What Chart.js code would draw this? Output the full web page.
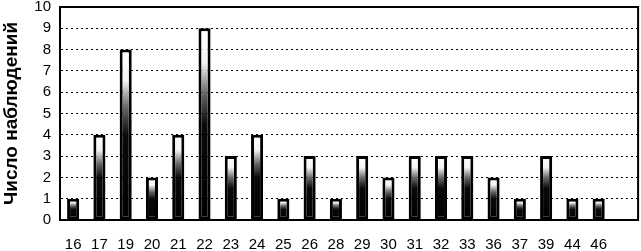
<!DOCTYPE html>
<html>
<head>
<meta charset="utf-8">
<script src="https://cdn.jsdelivr.net/npm/chart.js@4"></script>
<style>
  body { margin: 0; background: #fff; }
  #wrap { width: 641px; height: 251px; }
</style>
</head>
<body>
<div id="wrap"><canvas id="chart"></canvas></div>
<script>
// categories (last slot is empty, as in the original)
const categories = ['16', '17', '19', '20', '21', '22', '23', '24', '25', '26', '28',
    '29', '30', '31', '32', '33', '36', '37', '39', '44', '46', ''];
const counts = [1, 4, 8, 2, 4, 9, 3, 4, 1, 3, 1, 3, 2, 3, 3, 3, 2, 1, 3, 1, 1, null];
const yTicks = [0, 1, 2, 3, 4, 5, 6, 7, 8, 9, 10];

// bar fill: dark at the bottom fading to white at the top of each bar
function barFill(ctx) {
    const chart = ctx.chart;
    if (!chart.chartArea || ctx.raw == null) return '#000';
    const y = chart.scales.y;
    const base = y.getPixelForValue(0);
    const top = y.getPixelForValue(ctx.raw);
    const g = chart.ctx.createLinearGradient(0, base, 0, top);
    g.addColorStop(0, '#000');
    g.addColorStop(0.5, '#0a0a0a');
    g.addColorStop(0.66, '#666');
    g.addColorStop(0.82, '#f4f4f4');
    g.addColorStop(1, '#fff');
    return g;
}

// frame around the plot area
const frame = {
    id: 'frame',
    afterDatasetsDraw(chart) {
        const { ctx, chartArea: a } = chart;
        ctx.save();
        ctx.strokeStyle = '#000';
        ctx.lineWidth = 2;
        ctx.strokeRect(a.left, a.top, a.right - a.left, a.bottom - a.top);
        ctx.restore();
    }
};

new Chart(document.getElementById('chart'), {
    type: 'bar',
    data: {
        labels: categories,
        datasets: [{
            data: counts,
            backgroundColor: barFill,
            borderColor: '#000',
            borderWidth: 3,
            borderSkipped: false,
            barPercentage: 0.46,
            categoryPercentage: 1
        }]
    },
    options: {
        responsive: true,
        maintainAspectRatio: false,
        animation: false,
        layout: { padding: { top: 0, right: 2, left: 0, bottom: 0 } },
        plugins: {
            legend: { display: false },
            tooltip: { enabled: false }
        },
        scales: {
            x: {
                grid: { display: false, drawTicks: false },
                border: { display: true, color: '#000', width: 2 },
                afterFit: axis => { axis.height = 31; },
                ticks: {
                    color: '#000',
                    padding: 16,
                    maxRotation: 0,
                    autoSkip: false,
                    font: { family: 'Liberation Sans, Arial', size: 15 }
                }
            },
            y: {
                min: 0,
                max: 10,
                afterBuildTicks: axis => { axis.ticks = yTicks.map(v => ({ value: v })); },
                afterFit: axis => {
                    axis.width = 60;
                    axis.paddingTop = 7;
                    axis.paddingBottom = 0;
                },
                grid: {
                    color: '#000',
                    lineWidth: 1,
                    drawTicks: false
                },
                border: { display: true, color: '#000', width: 2, dash: [2, 3] },
                ticks: {
                    color: '#000',
                    padding: 9,
                    autoSkip: false,
                    font: { family: 'Liberation Sans, Arial', size: 15 }
                },
                title: {
                    display: true,
                    text: 'Число наблюдений',
                    color: '#000',
                    padding: { top: 0, bottom: 4 },
                    font: { family: 'Liberation Sans, Arial', size: 19, weight: 'bold' }
                }
            }
        }
    },
    plugins: [frame]
});
</script>
</body>
</html>
